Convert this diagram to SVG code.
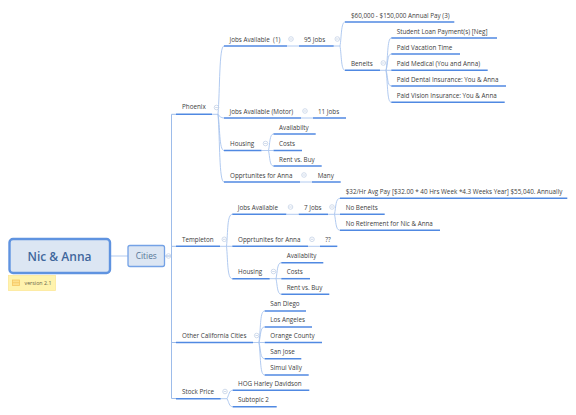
<svg xmlns="http://www.w3.org/2000/svg" width="576" height="415" viewBox="0 0 576 415">
<style>
text{font-family:"Open Sans","Liberation Sans",sans-serif;font-size:6.3px;fill:#404040;white-space:pre}
.u{fill:none;stroke:#5089e2;stroke-width:1.5}
.c{fill:none;stroke:#a8c4ee;stroke-width:.9}
.t{fill:none;stroke:#9dbcea;stroke-width:1}
.m{fill:none;stroke:#c4d2e6;stroke-width:.8}
</style>
<defs>
<g id="minus"><circle r="2.3" class="m"/><path d="M-1.300 0H1.300" class="m"/></g>
</defs>
<rect width="576" height="415" fill="#fff"/>
<g id="connectors">
<path class="c" d="M110 256H128M165 256H171.500"/>
<path class="t" d="M176 114.300H171.500V398.500H176M171.500 246.300H176M171.500 342.500H176"/>
<path class="c" d="M212 114.300H218M218 114.300C220 90 219 46 224 46M218 114.300C219 116 221 118 224 118M218 114.300C220 125 219 150.500 224 150.500M218 114.300C220 140 219 182 224 182"/>
<path class="c" d="M287 46H299M333.700 46H340M340 46C341.500 38 341 22 345 22M340 46C341.500 54 341 70.300 345 70.300"/>
<path class="c" d="M380 70.300H386M386 70.300C388 60 387 38 391.300 38M386 70.300C388 65 387 54 391.300 54M386 70.300H391.300M386 70.300C388 76 387 86 391.300 86M386 70.300C388 85 387 102.300 391.300 102.300"/>
<path class="c" d="M301 118H313M300 182H312"/>
<path class="c" d="M261.500 150.500H268.500M268.500 150.500C270 144 269.500 134 273.500 134M268.500 150.500H273.500M268.500 150.500C270 157 269.500 166 273.500 166"/>
<path class="c" d="M220 246.300H226.500M226.500 246.300C228 232 227 214.300 232.300 214.300M226.500 246.300H232.300M226.500 246.300C228 260 227 278.700 232.300 278.700"/>
<path class="c" d="M286.300 214.300H298.700M328 214.300H334.500M334.500 214.300C336 207 335.500 198.300 340 198.300M334.500 214.300H340M334.500 214.300C336 221 335.500 230.300 340 230.300"/>
<path class="c" d="M308 246.300H320"/>
<path class="c" d="M269.700 278.700H276M276 278.700C277.500 272 277 262.700 281.300 262.700M276 278.700H281.300M276 278.700C277.500 285 277 294.300 281.300 294.300"/>
<path class="c" d="M253 342.500H259M259 342.500C261 325 260 311 264.700 311M259 342.500C261 335 260 327 264.700 327M259 342.500H264.700M259 342.500C261 350 260 358.700 264.700 358.700M259 342.500C261 360 260 375 264.700 375"/>
<path class="c" d="M220.700 398.700H227M227 398.700C229 395 229 390.300 232.700 390.300M227 398.700C229 402 229 406.700 232.700 406.700"/>
</g>
<g id="root"><rect x="9.500" y="239" width="100.500" height="34" rx="3.500" fill="#dce6f3" stroke="#5f93e0" stroke-width="2.400"/><text x="59.500" y="260.500" text-anchor="middle" style="font-size:12px;font-weight:600;fill:#3f669c">Nic &amp; Anna</text></g>
<g id="note"><rect x="8.500" y="275.500" width="47" height="15" fill="#fff3ad" stroke="#fde89a" stroke-width=".8"/><rect x="12.500" y="280" width="7" height="5.500" fill="#fde08c" stroke="#f5c862" stroke-width=".8"/><path d="M12.500 282.700H19.500" stroke="#f5c862" stroke-width=".8"/><text x="24.500" y="284.500" style="font-size:5.300px;fill:#66634a">version 2.1</text></g>
<g id="cities"><rect x="128" y="245.500" width="36.500" height="21" rx="2" fill="#dce6f3" stroke="#74a2e6" stroke-width="1.300"/><text x="146.300" y="258.700" text-anchor="middle" style="font-size:8.300px;fill:#557596">Cities</text><use href="#minus" x="168.500" y="256"/></g>

<g id="phoenix"><text x="182" y="109">Phoenix</text><path class="u" d="M176 114.300H212"/><use href="#minus" x="216.500" y="107.500"/></g>
<g id="ph-jobs"><text x="229.500" y="41.500">Jobs Available  (1)</text><path class="u" d="M224 46H287"/><use href="#minus" x="291" y="39"/></g>
<g id="ph-95"><text x="304" y="41.500">95 Jobs</text><path class="u" d="M299 46H333.700"/><use href="#minus" x="337.300" y="39"/></g>
<g id="ph-pay"><text x="351" y="17.500">$60,000 - $150,000 Annual Pay (3)</text><path class="u" d="M345 22H454.300"/></g>
<g id="ph-ben"><text x="351" y="65.500">Beneits</text><path class="u" d="M345 70.300H380"/><use href="#minus" x="383.300" y="63"/></g>
<g id="b1"><text x="396.700" y="33.500">Student Loan Payment(s) [Neg]</text><path class="u" d="M391.300 38H497"/></g>
<g id="b2"><text x="396.700" y="49.500">Paid Vacation Time</text><path class="u" d="M391.300 54H460"/></g>
<g id="b3"><text x="396.700" y="65.500">Paid Medical (You and Anna)</text><path class="u" d="M391.300 70.300H487.700"/></g>
<g id="b4"><text x="396.700" y="81.500">Paid Dental Insurance: You &amp; Anna</text><path class="u" d="M391.300 86H506"/></g>
<g id="b5"><text x="396.700" y="97.500">Paid Vision Insurance: You &amp; Anna</text><path class="u" d="M391.300 102.300H504.700"/></g>
<g id="ph-motor"><text x="229.500" y="113.500">Jobs Available (Motor)</text><path class="u" d="M224 118H301"/><use href="#minus" x="305" y="111"/></g>
<g id="ph-11"><text x="318" y="113.500">11 Jobs</text><path class="u" d="M313 118H346"/></g>
<g id="ph-housing"><text x="230" y="145.500">Housing</text><path class="u" d="M224 150.500H261.500"/><use href="#minus" x="265.500" y="143.500"/></g>
<g id="ph-h1"><text x="279" y="129.500">Availabilty</text><path class="u" d="M273.500 134H315.700"/></g>
<g id="ph-h2"><text x="279" y="145.500">Costs</text><path class="u" d="M273.500 150.500H302"/></g>
<g id="ph-h3"><text x="279" y="161.500">Rent vs. Buy</text><path class="u" d="M273.500 166H321.700"/></g>
<g id="ph-opp"><text x="230" y="177.500">Opprtunites for Anna</text><path class="u" d="M224 182H300"/><use href="#minus" x="304" y="175"/></g>
<g id="ph-many"><text x="317.700" y="177.500">Many</text><path class="u" d="M312 182H340.700"/></g>

<g id="templeton"><text x="182" y="241.500">Templeton</text><path class="u" d="M176 246.300H220"/><use href="#minus" x="224.300" y="239.300"/></g>
<g id="te-jobs"><text x="237.700" y="209.500">Jobs Available</text><path class="u" d="M232.300 214.300H286.300"/><use href="#minus" x="290.500" y="207"/></g>
<g id="te-7"><text x="304" y="209.500">7 Jobs</text><path class="u" d="M298.700 214.300H328"/><use href="#minus" x="332" y="207"/></g>
<g id="te-pay"><text x="345.700" y="193.500">$32/Hr Avg Pay [$32.00 * 40 Hrs Week *4.3 Weeks Year] $55,040. Annually</text><path class="u" d="M340 198.300H567.300"/></g>
<g id="te-noben"><text x="345.700" y="209.500">No Beneits</text><path class="u" d="M340 214.300H384.700"/></g>
<g id="te-noret"><text x="345.700" y="225.500">No Retirement for Nic &amp; Anna</text><path class="u" d="M340 230.300H440"/></g>
<g id="te-opp"><text x="238" y="241.500">Opprtunites for Anna</text><path class="u" d="M232.300 246.300H308"/><use href="#minus" x="312" y="239.300"/></g>
<g id="te-q"><text x="325.300" y="241.500">??</text><path class="u" d="M320 246.300H337.300"/></g>
<g id="te-housing"><text x="238" y="273.500">Housing</text><path class="u" d="M232.300 278.700H269.700"/><use href="#minus" x="273.500" y="271.500"/></g>
<g id="te-h1"><text x="286.700" y="257.500">Availabilty</text><path class="u" d="M281.300 262.700H323.300"/></g>
<g id="te-h2"><text x="286.700" y="273.500">Costs</text><path class="u" d="M281.300 278.700H310"/></g>
<g id="te-h3"><text x="286.700" y="289.500">Rent vs. Buy</text><path class="u" d="M281.300 294.300H329.300"/></g>

<g id="california"><text x="182" y="337.500">Other California Cities</text><path class="u" d="M176 342.500H253"/><use href="#minus" x="256.700" y="335.500"/></g>
<g id="ca1"><text x="270.300" y="305.500">San Diego</text><path class="u" d="M264.700 311H306"/></g>
<g id="ca2"><text x="270.300" y="321.500">Los Angeles</text><path class="u" d="M264.700 327H312"/></g>
<g id="ca3"><text x="270.300" y="337.500">Orange County</text><path class="u" d="M264.700 342.500H322"/></g>
<g id="ca4"><text x="270.300" y="353.500">San Jose</text><path class="u" d="M264.700 358.700H301.300"/></g>
<g id="ca5"><text x="270.300" y="369.500">Simui Vally</text><path class="u" d="M264.700 375H308.700"/></g>

<g id="stock"><text x="182" y="393.500">Stock Price</text><path class="u" d="M176 398.700H220.700"/><use href="#minus" x="225" y="391.500"/></g>
<g id="st1"><text x="238" y="385.500">HOG Harley Davidson</text><path class="u" d="M232.700 390.300H309.300"/></g>
<g id="st2"><text x="238" y="401.500">Subtopic 2</text><path class="u" d="M232.700 406.700H276.700"/></g>
</svg>
